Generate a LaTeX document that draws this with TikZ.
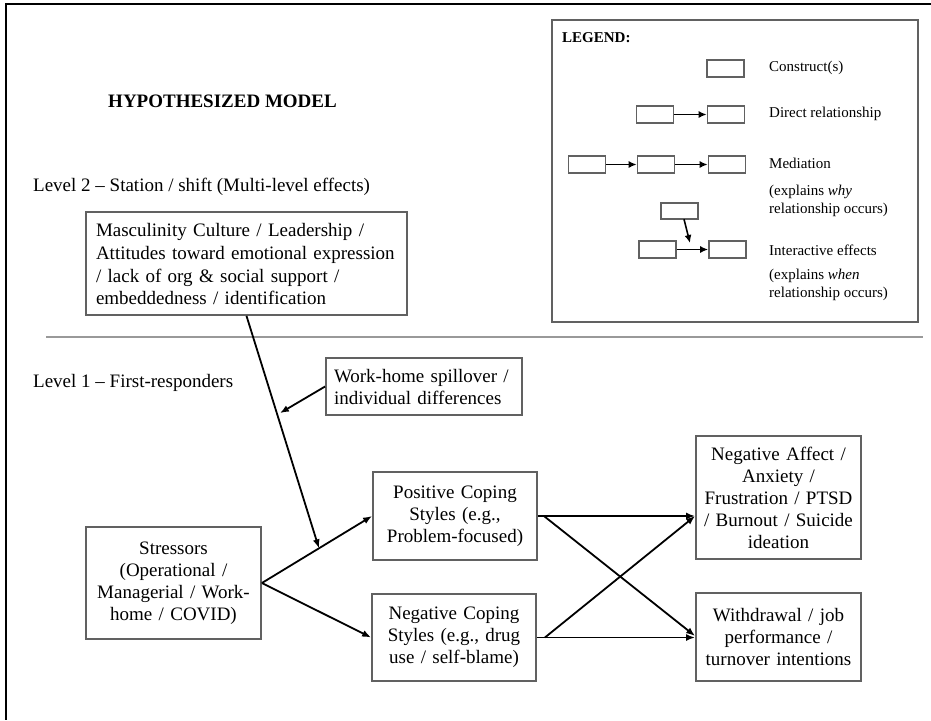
\documentclass[tikz,border=0pt]{standalone}
\usepackage{fontspec}
\setmainfont{Liberation Serif}
\usetikzlibrary{arrows.meta,calc}
\newcommand\mainfnt{\fontsize{19}{22}\selectfont}
\newcommand\legfnt{\fontsize{15}{18}\selectfont}
\definecolor{boxgray}{gray}{0.38}
\definecolor{sepgray}{gray}{0.6}
\begin{document}
\begin{tikzpicture}[x=1pt,y=-1pt,
  box/.style={draw=boxgray, line width=1.8pt, inner sep=0pt, font=\mainfnt, align=center},
  lbox/.style={draw=boxgray, line width=1.6pt, inner sep=0pt, minimum width=37pt, minimum height=16.5pt},
  ltext/.style={anchor=west, inner sep=0pt, font=\legfnt, align=left},
  arr/.style={-{Latex[length=9pt,width=7pt]}, line width=1.8pt},
  larr/.style={-{Latex[length=8pt,width=7pt]}, line width=1.6pt}]
\useasboundingbox (0,0) rectangle (931,720);
% frame
\draw[line width=1.8pt] (931,4) -- (6,4) -- (6,720);
% title and level labels
\node[font=\fontsize{19}{22}\selectfont\bfseries, inner sep=0pt] (title) at (222.5,101) {HYPOTHESIZED MODEL};
\node[font=\mainfnt, anchor=west, inner sep=0pt] (lev2) at (33,187) {Level 2 -- Station / shift (Multi-level effects)};
\node[font=\mainfnt, anchor=west, inner sep=0pt] (lev1) at (33,383) {Level 1 -- First-responders};
% separator
\coordinate (sepL) at (46,337);
\coordinate (sepR) at (923,337);
\draw[sepgray, line width=1.4pt] (sepL) -- (sepR);
% main boxes
\node[box, minimum width=321pt, minimum height=103pt, text width=301pt, align=left] (masc) at (246.5,263.5)
  {\fontsize{19}{23}\selectfont Masculinity Culture / Leadership /\\ Attitudes toward emotional expression\\ / lack of org \& social support /\\ embeddedness / identification};
\node[box, minimum width=196pt, minimum height=57pt, text width=180pt, align=left] (wh) at (424,386.5)
  {Work-home spillover /\\ individual differences};
\node[box, minimum width=175pt, minimum height=112pt, text width=165pt] (str) at (173.5,583)
  {Stressors\\ (Operational /\\ Managerial / Work-\\ home / COVID)};
\node[box, minimum width=164pt, minimum height=88pt, text width=156pt] (pos) at (455,516)
  {Positive Coping\\ Styles (e.g.,\\ Problem-focused)};
\node[box, minimum width=164pt, minimum height=87pt, text width=156pt] (neg) at (454,637.5)
  {Negative Coping\\ Styles (e.g., drug\\ use / self-blame)};
\node[box, minimum width=165pt, minimum height=123pt, text width=157pt] (na) at (778.5,497.5)
  {Negative Affect /\\ Anxiety /\\ Frustration / PTSD\\ / Burnout / Suicide\\ ideation};
\node[box, minimum width=165pt, minimum height=88pt, text width=157pt] (wd) at (778.5,637)
  {Withdrawal / job\\ performance /\\ turnover intentions};
% connectors
\draw[arr] (str.east) -- (pos.west);
\draw[arr] (str.east) -- (neg.west);
\coordinate (mod) at ($(str.east)!0.518!(pos.west)$);
\draw[arr] (masc.south) -- (mod);
\coordinate (mod2) at ($(masc.south)!0.425!(mod)$);
\draw[arr, shorten >=3pt] (wh.west) -- (mod2);
\draw[arr] (pos.east) -- (pos.east -| na.west);
\draw[arr] (neg.east) -- (neg.east -| wd.west);
\coordinate (posb) at ($(pos.east)+(6,0)$);
\coordinate (negb) at ($(neg.east)+(8,0)$);
\draw[arr] (posb) -- ($(wd.west)+(0,-1)$);
\draw[arr] (negb) -- ($(na.west)+(0,18.5)$);
% legend
\node[draw=boxgray, line width=1.8pt, minimum width=366pt, minimum height=302pt, inner sep=0pt] (leg) at (735,171) {};
\node[ltext, font=\legfnt\bfseries] (legt) at (562,38) {LEGEND:};
\node[lbox] (c1) at (725.5,68.5) {};
\node[ltext] (c1t) at (769,68) {Construct(s)};
\node[lbox] (d1) at (655,114.5) {};
\node[lbox] (d2) at (726,114.5) {};
\draw[larr] (d1) -- (d2);
\node[ltext] (d1t) at (769,114) {Direct relationship};
\node[lbox] (m1) at (587,164.5) {};
\node[lbox] (m2) at (656,164.5) {};
\node[lbox] (m3) at (727,164.5) {};
\draw[larr] (m1) -- (m2);
\draw[larr] (m2) -- (m3);
\node[ltext] (m1t) at (769,163) {Mediation};
\node[ltext] (m2t) at (769,201) {(explains \textit{why}\\ relationship occurs)};
\node[lbox] (i0) at (679.5,211) {};
\node[lbox] (i1) at (657.5,249.5) {};
\node[lbox] (i2) at (727.5,249.5) {};
\draw[larr] (i1) -- (i2);
\coordinate (imod) at (690,243);
\draw[larr] (684,219.25) -- (imod);
\node[ltext] (i1t) at (769,250) {Interactive effects};
\node[ltext] (i2t) at (769,285) {(explains \textit{when}\\ relationship occurs)};
\end{tikzpicture}
\end{document}
